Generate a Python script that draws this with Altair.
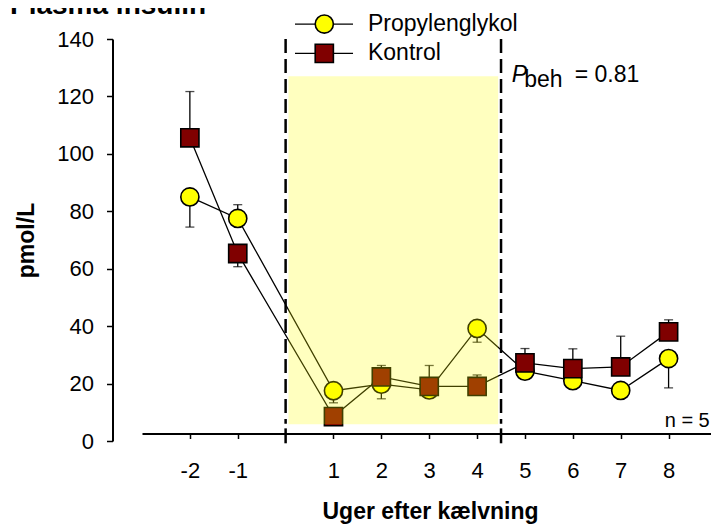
import altair as alt
import pandas as pd

# ---- data ----
weeks = [-2, -1, 1, 2, 3, 4, 5, 6, 7, 8]
propyl = [85.0, 77.5, 17.5, 19.8, 17.8, 39.2, 24.3, 21.0, 17.6, 28.7]
kontrol = [105.6, 65.3, 8.5, 22.3, 19.0, 19.0, 27.2, 25.2, 25.8, 38.0]
propyl_err_end = [74.5, 82.3, 13.3, 14.7, None, 34.4, None, None, None, 18.5]
kontrol_err_end = [121.7, 60.7, None, 26.3, 26.3, 23.0, 32.2, 32.1, 36.5, 42.2]

x_ticks = [-2, -1, 1, 2, 3, 4, 5, 6, 7, 8]
y_ticks = [0, 20, 40, 60, 80, 100, 120, 140]
period_bounds = [0, 4.5]
shade_x = [0.06, 4.44]
shade_y = [5.8, 127.0]

series_names = ["Propylenglykol", "Kontrol"]
FONT = "Liberation Sans"

rows = []
for w, v, e in zip(weeks, propyl, propyl_err_end):
    rows.append({"week": w, "value": v, "err": e, "group": "Propylenglykol"})
for w, v, e in zip(weeks, kontrol, kontrol_err_end):
    rows.append({"week": w, "value": v, "err": e, "group": "Kontrol"})
df = pd.DataFrame(rows)
df_err = df.dropna(subset=["err"])

xs = alt.Scale(domain=[-3, 8.886], nice=False, zero=False)
ys = alt.Scale(domain=[0, 140], nice=False, zero=False)

x_axis = alt.Axis(
    values=x_ticks, orient="bottom", offset=-7.5, grid=False,
    labelExpr="'' + datum.value",
    domainColor="black", domainWidth=2, tickColor="black", tickWidth=1.5, tickSize=5,
    labelFont=FONT, labelFontSize=22, labelColor="black", labelPadding=22,
    title="Uger efter kælvning", titleFont=FONT, titleFontSize=23, titleFontWeight="bold",
    titleColor="black", titleX=288, titleY=84.5, titleAlign="center", titleBaseline="alphabetic")
y_axis = alt.Axis(
    values=y_ticks, orient="left", offset=29.5, grid=False,
    domainColor="black", domainWidth=2, tickColor="black", tickWidth=1.5, tickSize=6,
    labelFont=FONT, labelFontSize=22, labelColor="black", labelPadding=13,
    title="pmol/L", titleFont=FONT, titleFontSize=23, titleFontWeight="bold",
    titleColor="black", titleAngle=270, titleX=-86.5, titleY=201,
    titleAlign="center", titleBaseline="middle")


def X(f="week"):
    return alt.X(f, type="quantitative", scale=xs, axis=x_axis)


def Y(f="value"):
    return alt.Y(f, type="quantitative", scale=ys, axis=y_axis)


base = alt.Chart(df)

bounds_df = pd.DataFrame({"x": period_bounds, "top": [140, 140], "bot": [6, 6],
                          "tt": [4.4, 4.4], "tb": [-0.8, -0.8]})
dashed = alt.Chart(bounds_df).mark_rule(color="black", strokeWidth=2.5, strokeDash=[14, 6]).encode(
    x=X("x"), y=Y("top"), y2="bot:Q"
)
big_ticks = alt.Chart(bounds_df).mark_rule(color="black", strokeWidth=2.5).encode(
    x=X("x"), y=Y("tt"), y2="tb:Q"
)

lines = base.mark_line(color="black", strokeWidth=1.3).encode(
    x=X(), y=Y(), detail="group:N", order="week:Q"
)
err_rules = alt.Chart(df_err).mark_rule(color="black", strokeWidth=1.3).encode(
    x=X(), y=Y(), y2="err:Q"
)
err_caps = alt.Chart(df_err).mark_tick(color="black", orient="horizontal", size=9, thickness=1.3).encode(
    x=X(), y=Y("err")
)
circles = alt.Chart(df[df.group == "Propylenglykol"]).mark_point(
    shape="circle", filled=True, fill="#ffff00", stroke="black", strokeWidth=1.6, size=330, opacity=1
).encode(x=X(), y=Y())
squares = alt.Chart(df[df.group == "Kontrol"]).mark_point(
    shape="square", filled=True, fill="#800000", stroke="black", strokeWidth=1.6, size=330, opacity=1
).encode(x=X(), y=Y())

shade_df = pd.DataFrame({"x": [shade_x[0]], "x2": [shade_x[1]], "y": [shade_y[0]], "y2": [shade_y[1]]})
shade = alt.Chart(shade_df).mark_rect(color="#ffff00", opacity=0.25).encode(
    x=X("x"), x2="x2:Q", y=Y("y"), y2="y2:Q"
)

# manual legend (line through symbol)
leg_df = pd.DataFrame({
    "name": series_names,
    "x0": [0.196, 0.196], "x1": [1.408, 1.408], "xs": [0.808, 0.808], "xt": [1.72, 1.72],
    "y": [145.2, 135.0],
})
leg_lines = alt.Chart(leg_df).mark_rule(color="black", strokeWidth=1.3).encode(
    x=X("x0"), x2="x1:Q", y=Y("y")
)
leg_circle = alt.Chart(leg_df.iloc[[0]]).mark_point(
    shape="circle", filled=True, fill="#ffff00", stroke="black", strokeWidth=1.6, size=330, opacity=1
).encode(x=X("xs"), y=Y("y"))
leg_square = alt.Chart(leg_df.iloc[[1]]).mark_point(
    shape="square", filled=True, fill="#800000", stroke="black", strokeWidth=1.6, size=330, opacity=1
).encode(x=X("xs"), y=Y("y"))
leg_text = alt.Chart(leg_df).mark_text(
    align="left", baseline="middle", font=FONT, fontSize=23, color="black"
).encode(x=X("xt"), y=Y("y"), text="name:N")

# annotations
ann_df = pd.DataFrame({"x": [4.723], "y": [125.1]})
p_main = alt.Chart(ann_df).mark_text(
    text="P", align="left", baseline="alphabetic", font=FONT, fontSize=23, fontStyle="italic", color="black"
).encode(x=X("x"), y=Y("y"))
p_sub = alt.Chart(ann_df).mark_text(
    text="beh", align="left", baseline="alphabetic", font=FONT, fontSize=23, color="black", dx=12.5, dy=5
).encode(x=X("x"), y=Y("y"))
p_val = alt.Chart(ann_df).mark_text(
    text="= 0.81", align="left", baseline="alphabetic", font=FONT, fontSize=23, color="black", dx=63
).encode(x=X("x"), y=Y("y"))

n_df = pd.DataFrame({"x": [8.86], "y": [5.0]})
n_text = alt.Chart(n_df).mark_text(
    text="n = 5", align="right", baseline="alphabetic", font=FONT, fontSize=20, color="black"
).encode(x=X("x"), y=Y("y"))

t_df = pd.DataFrame({"x": [-5.757], "y": [148.55]})
title_text = alt.Chart(t_df).mark_text(
    text="Plasma insulin", align="left", baseline="alphabetic", font=FONT, fontSize=28,
    fontWeight="bold", color="black"
).encode(x=X("x"), y=Y("y"))

chart = alt.layer(
    dashed, big_ticks, lines, err_rules, err_caps, circles, squares, shade,
    leg_lines, leg_circle, leg_square, leg_text, p_main, p_sub, p_val, n_text, title_text
).properties(
    width=569, height=402,
    autosize=alt.AutoSizeParams(type="none"),
    padding={"left": 134, "top": 31, "right": 0, "bottom": 85},
).configure(background="white").configure_view(stroke="transparent", strokeWidth=0)

chart.save("out.html", embed_options={"renderer": "svg", "actions": False})
